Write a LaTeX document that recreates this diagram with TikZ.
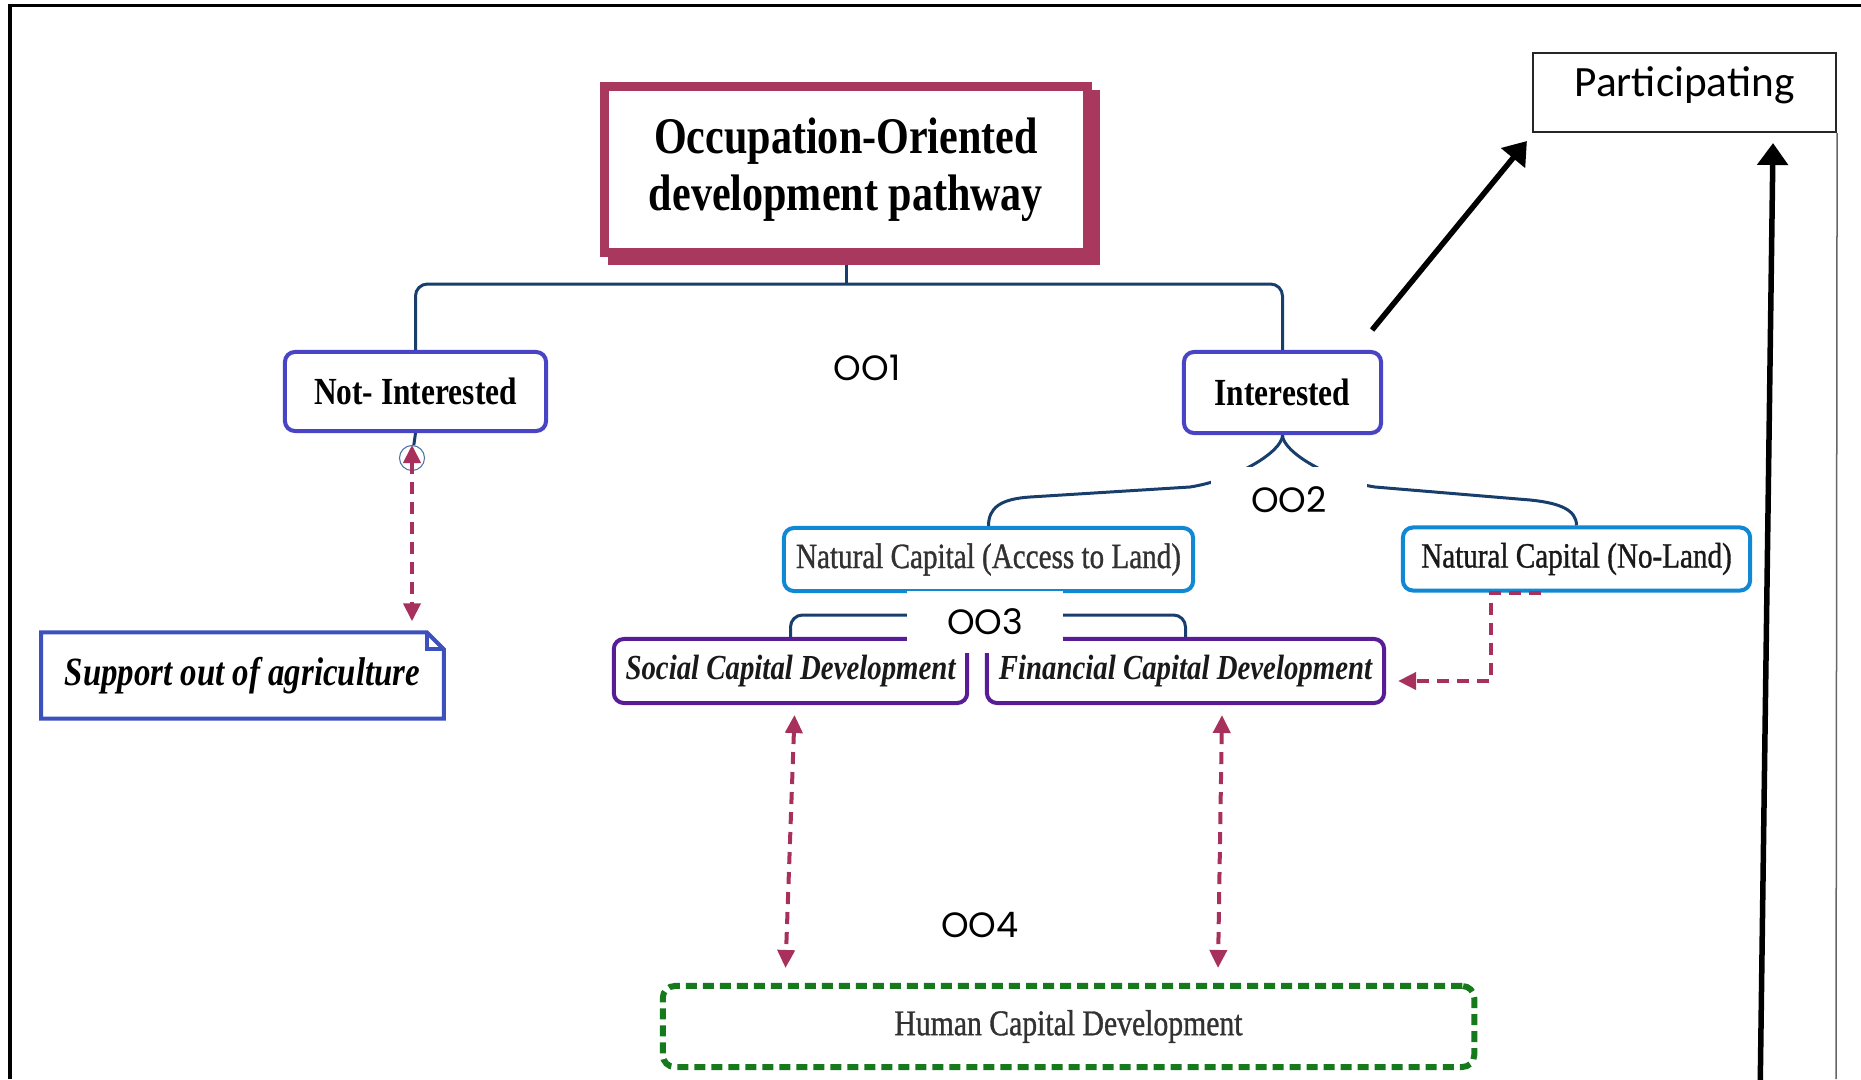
\documentclass[tikz,border=0pt]{standalone}
\usepackage{fontspec}
\setmainfont{Liberation Serif}[FakeStretch=0.82]
\newfontfamily\medserif{Liberation Serif}[FakeStretch=0.82,FakeBold=0.9]
\newfontfamily\tagfont{Poppins}
\newfontfamily\plainfont{Carlito}
\usetikzlibrary{arrows.meta,calc,backgrounds}

\definecolor{wine}{RGB}{168,56,94}
\definecolor{navyline}{RGB}{24,62,108}
\definecolor{choiceviolet}{RGB}{72,68,196}
\definecolor{capblue}{RGB}{16,136,212}
\definecolor{devpurple}{RGB}{88,28,150}
\definecolor{noteblue}{RGB}{60,80,190}
\definecolor{linkred}{RGB}{168,48,92}
\definecolor{leaf}{RGB}{22,122,28}
\definecolor{markblue}{RGB}{70,110,160}
\definecolor{textgray}{RGB}{50,50,50}

\begin{document}
\begin{tikzpicture}[x=0.01cm,y=-0.01cm,
    titlebox/.style={draw=wine,line width=0.09cm,minimum width=4.82cm,minimum height=1.65cm,
                     align=center,font=\bfseries\fontsize{14.6}{16.2}\selectfont},
    choice/.style={draw=choiceviolet,line width=\bw,rounded corners=0.1cm,fill=white,
                   font=\bfseries\fontsize{10.9}{13}\selectfont},
    natcap/.style={draw=capblue,line width=\bw,rounded corners=0.1cm,fill=white,
                   minimum height=0.63cm,font=\medserif\fontsize{10.1}{12}\selectfont},
    devbox/.style={draw=devpurple,line width=\bw,rounded corners=0.1cm,fill=white,
                   minimum height=0.64cm,text=black!90,font=\bfseries\itshape\fontsize{10}{12}\selectfont},
    noteline/.style={draw=noteblue,line width=\bw},
    ootag/.style={font=\tagfont\fontsize{10}{12}\selectfont,inner sep=0},
    branch/.style={draw=navyline,line width=0.03cm,rounded corners=0.12cm},
    link/.style={draw=linkred,line width=\bw,dash pattern=on 0.12cm off 0.08cm,
                 -{Triangle[length=0.18cm,width=0.17cm]}},
    twoway/.style={link,{Triangle[length=0.18cm,width=0.17cm]}-{Triangle[length=0.18cm,width=0.17cm]}},
    feed/.style={line width=0.055cm,-{Triangle[length=0.22cm,width=0.3cm]}}
    ]
    \def\bw{0.04cm} % box line width
    \def\fold{17}   % dog-ear size of the note

    \useasboundingbox (0,0) rectangle (1861,1079);

    % outer frame
    \draw[line width=0.03cm] (10,1079) -- (10,6) -- (1861,6);

    % pathway title with its offset shade
    \node[titlebox,fill=wine] (titleshade) at (854,177.5) {};
    \node[titlebox,fill=white] (title) at (846,169.5) {Occupation-Oriented\\development pathway};

    \node[choice,minimum width=2.61cm,minimum height=0.79cm] (notint) at (415.5,391.5) {Not- Interested};
    \node[choice,minimum width=1.97cm,minimum height=0.81cm] (int) at (1282.5,392.5) {Interested};

    \node[natcap,minimum width=4.09cm,text=textgray] (access) at (988.5,559.5) {Natural Capital (Access to Land)};
    \node[natcap,minimum width=3.47cm,text=black!90] (noland) at (1576.5,559) {Natural Capital (No-Land)};

    \node[devbox,minimum width=3.51cm] (social) at (790.5,671) {Social Capital Development};
    \node[devbox,minimum width=3.97cm] (financial) at (1185.5,671) {Financial Capital Development};

    \node[draw=leaf,line width=0.06cm,dash pattern=on 0.11cm off 0.06cm,rounded corners=0.12cm,
          minimum width=8.11cm,minimum height=0.81cm,text=textgray,font=\medserif\fontsize{10.3}{12}\selectfont]
          (human) at (1068.5,1026.5) {Human Capital Development};

    \node[draw=black!85,line width=0.02cm,minimum width=3.03cm,minimum height=0.79cm,text depth=0.22cm,
          font=\plainfont\fontsize{12.3}{14}\selectfont] (particip) at (1684.5,92.5) {Participating};
    \draw[black!60,line width=0.015cm] (particip.south east) -- (1836,1079);

    % note with folded corner
    \node[minimum width=4.01cm,minimum height=0.85cm,font=\bfseries\itshape\fontsize{11.4}{13}\selectfont]
          (support) at (242.5,675.5) {Support out of agriculture};
    \draw[noteline] (support.south west) -- (support.north west) -- ($(support.north east)+(-\fold,0)$)
          -- ($(support.north east)+(0,\fold)$) -- (support.south east) -- cycle;
    \draw[noteline] ($(support.north east)+(-\fold,0)$) |- ($(support.north east)+(0,\fold)$);

    \node[circle,draw=markblue,line width=0.01cm,minimum size=0.25cm,inner sep=0,text=gray!70,
          font=\fontsize{5}{5}\selectfont] (mark6) at (412,458) {6};

    % tree lines
    \coordinate (split) at (846,284);
    \coordinate (split3) at (988.5,615);
    \begin{scope}[on background layer]
        \draw[branch] (title.south) -- (split);
        \draw[branch] (notint.north) |- (split) -| (int.north);
        \draw[branch] (notint.south) -- (mark6);
        \draw[branch,sharp corners] (int.south) .. controls (1282.5,452) and (1235,480) .. (1190,487)
              -- (1030,497) .. controls (1000,499) and (988.5,508) .. (access.north);
        \draw[branch,sharp corners] (int.south) .. controls (1282.5,452) and (1330,480) .. (1375,487)
              -- (1530,500) .. controls (1560,503) and (1576.5,510) .. (noland.north);
        \draw[branch] (access.south) -- (split3);
        \draw[branch] (social.north) |- (split3) -| (financial.north);
    \end{scope}

    % stage tags
    \node[ootag] (oo1) at (867,368) {OO1};
    \node[ootag,fill=white,minimum width=1.55cm,minimum height=0.65cm] (oo2) at (1289,500) {OO2};
    \node[ootag,fill=white,minimum width=1.55cm,minimum height=0.62cm] (oo3) at (985,622) {OO3};
    \node[ootag] (oo4) at (980,925) {OO4};

    % dashed links
    \draw[twoway] (mark6.north) -- ($(mark6 |- support.north)+(0,-11)$);
    \draw[link] ($(noland.south)+(-36,0)$) -- ++(-50,0) |- ($(financial.east)+(12,10)$);
    \draw[twoway] ($(social.south)+(4,10)$) -- ($(social.south |- human.north)+(-5,-15)$);
    \draw[twoway] ($(financial.south)+(36.5,10)$) -- ($(financial.south |- human.north)+(32.5,-15)$);

    % arrows into participation
    \coordinate (base) at (1760,1100);
    \draw[feed] ($(int.north east)+(-11,-20)$) -- ($(particip.south west)+(-5,8)$);
    \draw[feed] (base) -- ($(particip.south)+(88.5,10)$);
\end{tikzpicture}
\end{document}
